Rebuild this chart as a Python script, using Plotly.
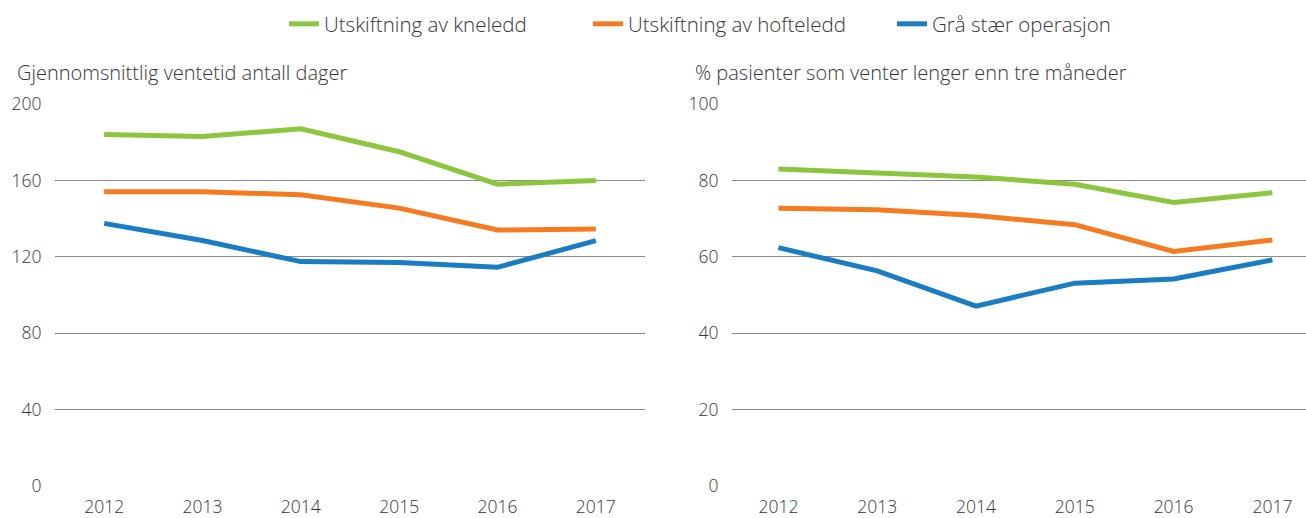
import plotly.graph_objects as go
from plotly.subplots import make_subplots

years = ["2012", "2013", "2014", "2015", "2016", "2017"]
series_names = ["Utskiftning av kneledd", "Utskiftning av hofteledd", "Grå stær operasjon"]
colors = ["#8cc63f", "#f47b20", "#1a7cc1"]

# Left: average waiting time (days)
days_knee = [184, 183, 187, 175, 158, 160]
days_hip = [154, 154, 152.5, 145.5, 134, 134.5]
days_cataract = [137.5, 128.5, 117.5, 117, 114.5, 128.5]

# Right: % patients waiting longer than three months
pct_knee = [83, 82, 80.9, 79, 74.2, 76.8]
pct_hip = [72.7, 72.3, 70.8, 68.4, 61.4, 64.4]
pct_cataract = [62.4, 56.3, 47.1, 53.1, 54.2, 59.2]

left_title = "Gjennomsnittlig ventetid antall dager"
right_title = "% pasienter som venter lenger enn tre måneder"

W, H = 1306, 518
FONT = "Open Sans"
TXT = "#363636"

fig = make_subplots(rows=1, cols=2)
left = [days_knee, days_hip, days_cataract]
right = [pct_knee, pct_hip, pct_cataract]
for i in range(3):
    fig.add_trace(go.Scatter(x=years, y=left[i], mode="lines", name=series_names[i],
                             line=dict(color=colors[i], width=5), legendgroup=str(i)),
                  row=1, col=1)
    fig.add_trace(go.Scatter(x=years, y=right[i], mode="lines", name=series_names[i],
                             line=dict(color=colors[i], width=5), legendgroup=str(i),
                             showlegend=False),
                  row=1, col=2)

axis_common = dict(showline=False, zeroline=False,
                   tickfont=dict(family=FONT, size=17.5, color=TXT, weight=300))
fig.update_xaxes(type="category", showgrid=False, ticks="outside", ticklen=5,
                 tickcolor="rgba(0,0,0,0)", **axis_common)
fig.update_yaxes(showgrid=True, gridcolor="#8a8a8a", gridwidth=1, ticks="outside", ticklen=9,
                 tickcolor="rgba(0,0,0,0)", **axis_common)

fig.update_layout(
    width=W, height=H,
    margin=dict(l=0, r=0, t=104, b=28),
    plot_bgcolor="white", paper_bgcolor="white",
    xaxis=dict(domain=[55 / W, 645 / W], range=[-0.5, 5.5]),
    xaxis2=dict(domain=[732 / W, 1.0], range=[-0.47, 5.34]),
    yaxis=dict(range=[0, 200], tickvals=[0, 40, 80, 120, 160, 200]),
    yaxis2=dict(range=[0, 100], tickvals=[0, 20, 40, 60, 80, 100]),
    legend=dict(orientation="h", x=284 / W, xanchor="left", y=1 - 24 / H, yanchor="middle",
                yref="container", font=dict(family=FONT, size=20.5, color=TXT, weight=300),
                entrywidth=259, entrywidthmode="pixels", traceorder="normal"),
    font=dict(family=FONT, color=TXT),
    showlegend=True,
)

plot_h = H - 104 - 28
for txt, xpx in [(left_title, 15), (right_title, 693)]:
    fig.add_annotation(text=txt, x=xpx / W, xref="paper", xanchor="left",
                       y=(H - 28 - 72) / plot_h, yref="paper", yanchor="middle",
                       showarrow=False, font=dict(family=FONT, size=20, color=TXT, weight=300))

fig.write_html("out.html", post_script="document.body.style.margin='0';",
               config={"displayModeBar": False})
